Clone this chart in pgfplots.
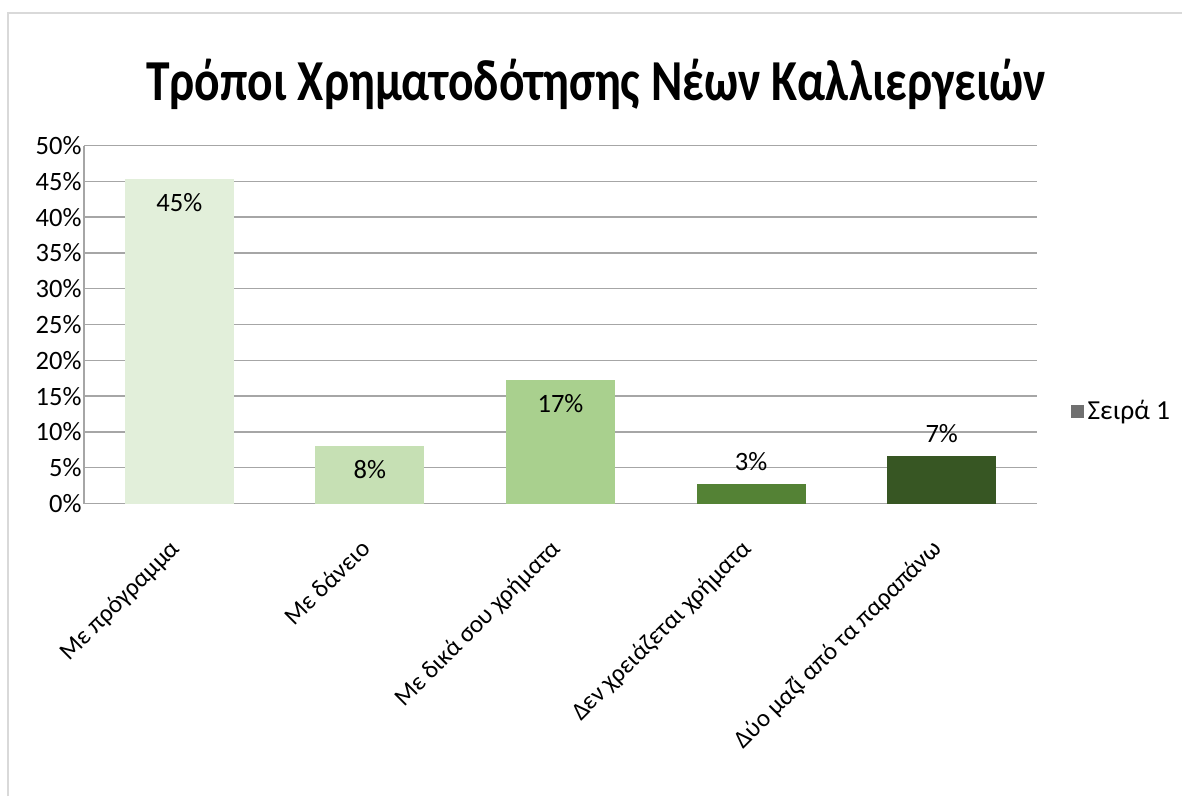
\documentclass[border=0pt]{standalone}
\usepackage{fontspec}
\setmainfont{Carlito}
\newfontfamily\titlefont[FakeStretch=0.82]{Carlito}
\usepackage{pgfplots}
\pgfplotsset{compat=1.18}

\definecolor{cA}{HTML}{E2EFDA}
\definecolor{cB}{HTML}{C6E0B4}
\definecolor{cC}{HTML}{A9D08E}
\definecolor{cD}{HTML}{548235}
\definecolor{cE}{HTML}{375623}
\definecolor{gridc}{HTML}{A6A6A6}
\definecolor{legc}{HTML}{707070}

\begin{document}
\begin{tikzpicture}[x=1pt,y=1pt]
\useasboundingbox (0,0) rectangle (1182,-796);
\fill[white] (0,0) rectangle (1182,-796);
\draw[black!15, line width=1.5pt] (8,-796) -- (8,-13) -- (1182,-13);
\node[anchor=base, font=\titlefont\bfseries\fontsize{58}{66}\selectfont] at (596,-100)
  {Τρόποι Χρηματοδότησης Νέων Καλλιεργειών};
\begin{axis}[
    at={(84pt,-503.5pt)}, anchor=south west,
    scale only axis, width=953pt, height=358pt,
    xmin=-0.5, xmax=4.5, ymin=0, ymax=50,
    ybar, bar width=109pt,
    axis x line=bottom, axis y line=left,
    axis line style={-, gridc, line width=1.5pt},
    ymajorgrids, grid style={gridc, line width=1.5pt},
    major tick length=0pt,
    ytick={0,5,...,50},
    yticklabel={\pgfmathprintnumber{\tick}\%},
    yticklabel style={font=\fontsize{26.5}{30}\selectfont, xshift=1pt},
    xtick={0,1,2,3,4},
    xticklabels={Με πρόγραμμα, Με δάνειο, Με δικά σου χρήματα, Δεν χρειάζεται χρήματα, Δύο μαζί από τα παραπάνω},
    xticklabel style={font=\fontsize{25}{30}\selectfont, xshift=-11pt, yshift=-31pt, rotate=45, anchor=north east, inner sep=2pt},
    /pgf/number format/assume math mode=true,
    legend style={at={(1.0357,0.2587)}, anchor=west, draw=none, fill=none,
      font=\fontsize{27.5}{30}\selectfont, inner sep=0pt, nodes={inner sep=4pt}},
    legend image code/.code={\fill[#1] (0pt,-6pt) rectangle (12pt,6pt);},
    nodes near coords={\pgfmathprintnumber[fixed,precision=0]{\pgfplotspointmeta}\%},
    every node near coord/.append style={font=\fontsize{26.5}{30}\selectfont, text=black},
    clip=false,
]
\addlegendimage{legc}
\addlegendentry{Σειρά 1}
\addplot[fill=cA, draw=none, bar shift=0pt, forget plot,
  every node near coord/.append style={anchor=north, yshift=-11pt}] coordinates {(0,45.3)};
\addplot[fill=cB, draw=none, bar shift=0pt, forget plot,
  every node near coord/.append style={anchor=north, yshift=-11pt}] coordinates {(1,8.0)};
\addplot[fill=cC, draw=none, bar shift=0pt, forget plot,
  every node near coord/.append style={anchor=north, yshift=-11pt}] coordinates {(2,17.2)};
\addplot[fill=cD, draw=none, bar shift=0pt, forget plot,
  every node near coord/.append style={yshift=10pt}] coordinates {(3,2.7)};
\addplot[fill=cE, draw=none, bar shift=0pt, forget plot,
  every node near coord/.append style={yshift=10pt}] coordinates {(4,6.6)};
\end{axis}
\end{tikzpicture}
\end{document}
